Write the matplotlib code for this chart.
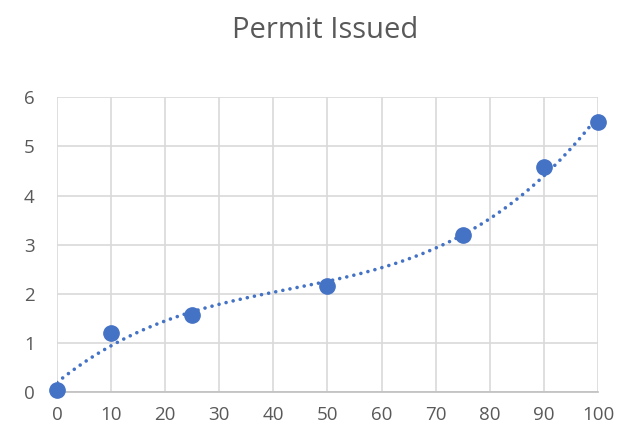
import numpy as np
import matplotlib
matplotlib.use("Agg")
import matplotlib.pyplot as plt

# Datos del gráfico
x_vals = [0, 10, 25, 50, 75, 90, 100]
y_vals = [0.05, 1.2, 1.57, 2.15, 3.2, 4.57, 5.5]
x_ticks = [0, 10, 20, 30, 40, 50, 60, 70, 80, 90, 100]
y_ticks = [0, 1, 2, 3, 4, 5, 6]

plt.rcParams['font.family'] = ['Open Sans', 'DejaVu Sans']

fig = plt.figure(figsize=(6.19, 4.30), dpi=100)
ax = fig.add_axes([0.092, 0.088, 0.874, 0.686])

azul = "#4472C4"

# Línea de tendencia polinómica (orden 3), como en Excel
coef = np.polyfit(x_vals, y_vals, 3)
xs = np.linspace(0, 100, 300)
ax.plot(xs, np.polyval(coef, xs), linestyle=(0, (0.01, 2)), color=azul, linewidth=2.6,
        dash_capstyle="round", zorder=2)

# Puntos
ax.plot(x_vals, y_vals, "o", color=azul, markersize=11, zorder=3, clip_on=False)

ax.set_xlim(0, 100)
ax.set_ylim(0, 6)
ax.set_xticks(x_ticks)
ax.set_yticks(y_ticks)
ax.grid(True, color="#D9D9D9", linewidth=1.2)
ax.set_axisbelow(True)
for lado in ["top", "right", "left"]:
    ax.spines[lado].set_visible(False)
ax.spines["bottom"].set_color("#BFBFBF")
ax.spines["bottom"].set_linewidth(1.2)
ax.tick_params(length=0, labelsize=13.5, colors="#595959", pad=10)
ax.tick_params(axis="y", pad=16)

fig.text(0.526, 0.93, "Permit Issued", ha="center", va="center", fontsize=21, color="#595959")

plt.savefig("out.png", dpi=100)
